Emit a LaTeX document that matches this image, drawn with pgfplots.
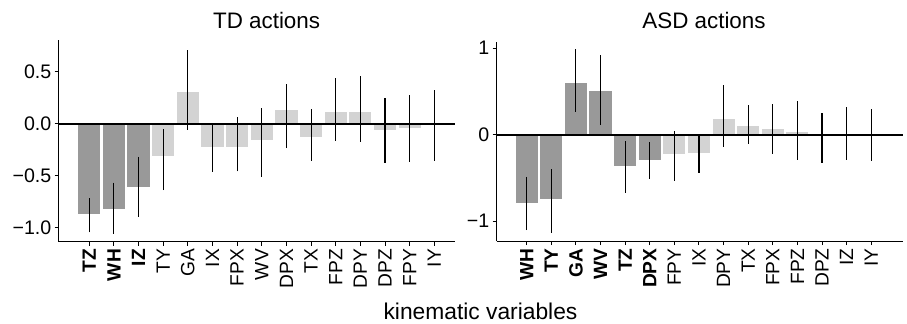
\documentclass[border=0pt]{standalone}
\usepackage{pgfplots}
\pgfplotsset{compat=1.18}
\usepackage{fontspec}
\setmainfont{Liberation Sans}
\definecolor{darkbar}{RGB}{153,153,153}
\definecolor{lightbar}{RGB}{211,211,211}

\pgfplotsset{
  barpanel/.style={
    scale only axis,
    axis x line*=bottom,
    axis y line*=left,
    axis line style={black, line width=0.5pt},
    tick style={black, line width=0.5pt},
    major tick length=2pt,
    tick align=outside,
    xtick pos=bottom, ytick pos=left,
    xtick={0,...,14},
    x tick label style={rotate=90, anchor=east, inner sep=1.5pt, font=\fontsize{9.6}{10}\selectfont},
    y tick label style={font=\fontsize{9.8}{10}\selectfont, inner sep=1.5pt},
    ybar, bar shift=0pt, bar width=0.94,
    clip=false,
  },
  barstyle/.style={
    fill=#1, draw=white, line width=0.5pt,
    error bars/.cd, y dir=both, y explicit, error mark=none,
    error bar style={black, line width=0.55pt},
  },
}

\pgfplotstableread{
x y ep em
0 -0.872 0.154 0.173
1 -0.824 0.257 0.234
2 -0.615 0.295 0.279
}\tdDark
\pgfplotstableread{
x y ep em
3 -0.320 0.269 0.318
4 0.308 0.400 0.368
5 -0.231 0.218 0.231
6 -0.228 0.290 0.230
7 -0.163 0.314 0.347
8 0.141 0.240 0.375
9 -0.135 0.273 0.221
10 0.122 0.314 0.285
11 0.115 0.343 0.288
12 -0.061 0.308 0.314
13 -0.042 0.318 0.323
14 -0.005 0.329 0.351
}\tdLight

\pgfplotstableread{
x y ep em
0 -0.790 0.301 0.312
1 -0.748 0.351 0.385
2 0.605 0.382 0.339
3 0.513 0.408 0.401
4 -0.362 0.289 0.312
5 -0.297 0.212 0.212
}\asdDark
\pgfplotstableread{
x y ep em
6 -0.227 0.269 0.305
7 -0.216 0.216 0.223
8 0.189 0.385 0.328
9 0.108 0.235 0.212
10 0.077 0.277 0.297
11 0.042 0.347 0.331
12 -0.019 0.269 0.305
13 0.000 0.320 0.289
14 0.000 0.297 0.300
}\asdLight

\begin{document}
\begin{tikzpicture}
\useasboundingbox (0pt,0pt) rectangle (453.5pt,-161.5pt);

\begin{axis}[barpanel,
  at={(29.35pt,-120.85pt)}, anchor=south west,
  width=198.15pt, height=100.85pt,
  xmin=-1.24, xmax=14.84, ymin=-1.135, ymax=0.805,
  ytick={-1,-0.5,0,0.5}, yticklabels={−1.0,−0.5,0.0,0.5},
  xticklabels={\textbf{TZ},\textbf{WH},\textbf{IZ},TY,GA,IX,FPX,WV,DPX,TX,FPZ,DPY,DPZ,FPY,IY},
]
\addplot[barstyle=darkbar] table[x=x, y=y, y error plus=ep, y error minus=em] {\tdDark};
\addplot[barstyle=lightbar] table[x=x, y=y, y error plus=ep, y error minus=em] {\tdLight};
\addplot[sharp plot, black, line width=0.9pt, forget plot] coordinates {(-1.24,0) (14.84,0)};
\end{axis}

\begin{axis}[barpanel,
  at={(248.35pt,-120.5pt)}, anchor=south west,
  width=203.15pt, height=99.65pt,
  xmin=-1.22, xmax=15.29, ymin=-1.229, ymax=1.075,
  ytick={-1,0,1}, yticklabels={−1,0,1},
  xticklabels={\textbf{WH},\textbf{TY},\textbf{GA},\textbf{WV},\textbf{TZ},\textbf{DPX},FPY,IX,DPY,TX,FPX,FPZ,DPZ,IZ,IY},
]
\addplot[barstyle=darkbar] table[x=x, y=y, y error plus=ep, y error minus=em] {\asdDark};
\addplot[barstyle=lightbar] table[x=x, y=y, y error plus=ep, y error minus=em] {\asdLight};
\addplot[sharp plot, black, line width=0.9pt, forget plot] coordinates {(-1.22,0) (15.29,0)};
\end{axis}

\node[font=\fontsize{11.2}{13}\selectfont, anchor=base] at (133.3pt,-14pt) {TD actions};
\node[font=\fontsize{11.2}{13}\selectfont, anchor=base] at (352pt,-14pt) {ASD actions};
\node[font=\fontsize{11.4}{13}\selectfont, anchor=base] at (240.25pt,-159.5pt) {kinematic variables};
\end{tikzpicture}
\end{document}
